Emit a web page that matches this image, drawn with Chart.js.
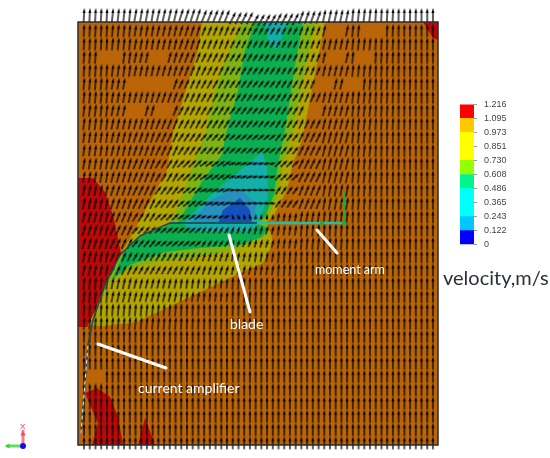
<!DOCTYPE html>
<html>
<head>
<meta charset="utf-8">
<title>velocity</title>
<script src="https://cdn.jsdelivr.net/npm/chart.js@4"></script>
<style>
    body { margin: 0; background: #fff; }
    #field { position: absolute; left: 0; top: 0; }
    #colorbar { position: absolute; left: 450px; top: 92px; }
</style>
</head>
<body>
<canvas id="field" width="550" height="458"></canvas>
<canvas id="colorbar" width="70" height="165"></canvas>
<script>
// contour regions
const domain = [[78, 22], [438, 22], [438, 445], [78, 445]];
const redLeft = [[78, 178], [93, 178], [105, 192], [113, 215], [118, 238], [121, 254], [105, 285], [93, 315], [87, 327], [78, 327]];
const redBottom = [[85, 393], [97, 388], [110, 397], [118, 417], [123, 445], [92, 445], [98, 423]];
const redBottomSmall = [[138, 445], [145, 418], [155, 445]];
const redCorner = [[423, 22], [438, 22], [438, 40], [433, 38]];
const oliveBand = [[202, 22], [325, 22], [302, 140], [293, 163], [287, 190], [273, 217], [264, 224], [271, 233], [273, 243], [263, 263], [240, 273], [200, 292], [137, 322], [103, 326], [88, 325], [93, 315], [105, 285], [121, 254], [133, 233], [167, 170], [173, 133], [198, 50]];
const limeUpper = [[243, 22], [315, 22], [307, 60], [293, 130], [283, 165], [278, 195], [268, 217], [258, 224], [170, 224], [183, 193], [195, 160], [205, 135], [215, 90], [230, 50]];
const limeLower = [[121, 254], [140, 237], [170, 224], [268, 224], [266, 236], [235, 250], [190, 258], [170, 260], [133, 267], [110, 280], [97, 310], [105, 285]];
const greenUpper = [[255, 22], [303, 22], [296, 60], [285, 130], [278, 165], [274, 195], [265, 217], [256, 224], [177, 224], [187, 207], [203, 180], [223, 153], [225, 137], [238, 90], [245, 50]];
const greenLower = [[125, 250], [140, 237], [170, 224], [258, 224], [268, 228], [262, 237], [240, 245], [200, 248], [165, 252], [130, 265], [112, 280]];
const tealUpper = [[265, 22], [287, 22], [283, 35], [277, 50], [268, 40]];
const tealMiddle = [[262, 152], [267, 167], [268, 197], [258, 224], [183, 224], [213, 193], [237, 173]];
const tealLower = [[183, 224], [258, 224], [250, 231], [195, 232]];
const lightBlue = [[190, 224], [210, 200], [237, 188], [257, 203], [252, 224]];
const blueCore = [[218, 224], [223, 210], [240, 198], [250, 210], [252, 224]];

const contourFills = [
    [domain, '#BA6508'],
    [oliveBand, '#B4A600'],
    [limeUpper, '#7DB414'],
    [limeLower, '#7DB414'],
    [greenUpper, '#0CAF50'],
    [greenLower, '#0CAF50'],
    [tealUpper, '#14AFA8'],
    [tealMiddle, '#14AFA8'],
    [tealLower, '#14AFA8'],
    [lightBlue, '#2890BE'],
    [blueCore, '#1450BE'],
    [redLeft, '#BC0808'],
    [redBottom, '#BC0808'],
    [redBottomSmall, '#BC0808'],
    [redCorner, '#BC0808']
];

// arrow direction in degrees clockwise from up, one row per 26 px, one column per 24 px
const arrowAngles = [
    [3, 6, 10, 13, 18, 22, 27, 30, 28, 20, 12, 6, 3, 1, 0],
    [4, 8, 12, 16, 21, 27, 32, 34, 30, 22, 13, 6, 3, 1, 0],
    [5, 10, 14, 19, 25, 30, 35, 38, 33, 24, 13, 6, 3, 1, 0],
    [7, 12, 16, 22, 28, 33, 38, 40, 33, 25, 14, 6, 3, 1, 0],
    [8, 14, 19, 26, 34, 42, 48, 50, 38, 26, 14, 6, 2, 0, 0],
    [10, 16, 22, 31, 45, 55, 68, 75, 45, 26, 13, 5, 2, 0, 0],
    [12, 18, 26, 37, 50, 65, 85, 95, 35, 22, 10, 4, 1, 0, 0],
    [14, 22, 32, 45, 55, 65, -20, 5, 10, 10, 6, 2, 0, 0, 0],
    [16, 25, 40, 50, 50, 35, 22, 15, 8, 5, 3, 1, 0, 0, 0],
    [12, 25, 30, 30, 25, 18, 12, 8, 4, 2, 1, 0, 0, 0, 0],
    [5, 12, 14, 12, 8, 5, 3, 2, 1, 0, 0, 0, 0, 0, 0],
    [3, 5, 5, 4, 2, 1, 1, 0, 0, 0, 0, 0, 0, 0, 0],
    [1, 1, 1, 1, 0, 0, 0, 0, 0, 0, 0, 0, 0, 0, 0],
    [0, 0, 0, 0, 0, 0, 0, 0, 0, 0, 0, 0, 0, 0, 0],
    [0, 0, 0, 0, 0, 0, 0, 0, 0, 0, 0, 0, 0, 0, 0],
    [0, 0, 0, 0, 0, 0, 0, 0, 0, 0, 0, 0, 0, 0, 0],
    [0, 0, 0, 0, 0, 0, 0, 0, 0, 0, 0, 0, 0, 0, 0]
];
// arrow length, same grid
const arrowLengths = [
    [13, 13, 12, 12, 12, 11, 10, 9, 9, 10, 12, 13, 13, 13, 13],
    [13, 13, 12, 12, 12, 11, 10, 9, 9, 10, 12, 13, 13, 13, 13],
    [13, 12, 12, 12, 11, 11, 10, 9, 10, 11, 12, 13, 13, 13, 13],
    [13, 12, 12, 12, 11, 11, 10, 9, 10, 11, 12, 13, 13, 13, 13],
    [12, 12, 12, 12, 11, 10, 9, 9, 10, 12, 13, 13, 13, 13, 13],
    [12, 12, 12, 11, 11, 10, 8, 7, 10, 12, 13, 13, 13, 13, 13],
    [12, 12, 12, 11, 10, 9, 7, 7, 10, 12, 13, 13, 13, 13, 13],
    [12, 12, 11, 10, 9, 7, 6, 6, 9, 12, 13, 13, 13, 13, 13],
    [12, 12, 10, 9, 9, 8, 8, 9, 11, 13, 13, 13, 13, 13, 13],
    [12, 11, 10, 10, 10, 10, 10, 11, 13, 13, 13, 13, 13, 13, 13],
    [13, 12, 11, 11, 11, 11, 13, 13, 13, 13, 13, 13, 13, 13, 13],
    [13, 13, 13, 13, 13, 13, 13, 13, 13, 13, 13, 13, 13, 13, 13],
    [13, 13, 13, 13, 13, 13, 13, 13, 13, 13, 13, 13, 13, 13, 13],
    [13, 13, 13, 13, 13, 13, 13, 13, 13, 13, 13, 13, 13, 13, 13],
    [13, 13, 13, 13, 13, 13, 13, 13, 13, 13, 13, 13, 13, 13, 13],
    [13, 13, 13, 13, 13, 13, 13, 13, 13, 13, 13, 13, 13, 13, 13],
    [13, 13, 13, 13, 13, 13, 13, 13, 13, 13, 13, 13, 13, 13, 13]
];
// tip height of the inlet row above the box, one per 24 px column
const inletTips = [8, 8, 8, 8, 8, 9, 11, 13, 12, 10, 9, 8, 8, 8, 8];
// spots where the vector plot left out arrows
const arrowGaps = [[157, 53], [137, 80], [160, 80], [135, 107], [163, 107], [110, 53], [335, 32], [373, 30], [335, 55], [363, 53], [323, 80], [353, 80], [313, 107], [95, 372]];

const bladeCurve = [[81, 433], [84, 395], [88, 345], [93, 320], [105, 285], [120, 255], [140, 236], [170, 223]];
const bladeFlat = [[170, 223], [258, 223]];
const momentArm = [[258, 223], [345, 223]];
const localAxis = [[344, 223], [344, 192]];
const leaderBlade = [[229, 235], [250, 312]];
const leaderArm = [[317, 230], [337, 253]];
const leaderAmplifier = [[98, 344], [166, 368]];
const triadX = [[23, 446], [23, 431]];
const triadY = [[23, 446], [7, 446]];

const fieldLabels = [
    ['moment arm', 315, 270, '#fff', '12.5px Lato'],
    ['blade', 230, 324, '#fff', '14px Lato'],
    ['current amplifier', 138, 388, '#fff', '14px Lato'],
    ['velocity,m/s', 443, 279, '#2b2f38', '20px Lato'],
    ['X', 20, 427, '#e04050', '8px "Liberation Sans"']
];

const legendTicks = [0, 0.122, 0.243, 0.365, 0.486, 0.608, 0.730, 0.851, 0.973, 1.095, 1.216];
const legendTickLabels = ['0', '0.122', '0.243', '0.365', '0.486', '0.608', '0.730', '0.851', '0.973', '1.095', '1.216'];
const legendBands = [[0, 0.122], [0.122, 0.243], [0.243, 0.486], [0.486, 0.608], [0.608, 0.730], [0.730, 0.973], [0.973, 1.095], [1.095, 1.216]];
const legendColors = ['#0000FF', '#00C8FF', '#00FFFF', '#00F58C', '#96FF00', '#FFFF00', '#FFC800', '#FF0000'];

// one sprite per arrow length, drawn around the centre so rotation works
const sprites = {};
function getSprite(len) {
    if (sprites[len]) return sprites[len];
    const c = document.createElement('canvas');
    c.width = 8;
    c.height = 18;
    const g = c.getContext('2d');
    const top = 9 - len / 2;
    g.fillStyle = '#050505';
    g.fillRect(3.35, top + 3, 1.3, len - 3);
    g.beginPath();
    g.moveTo(4, top);
    g.lineTo(5.5, top + 5);
    g.lineTo(2.5, top + 5);
    g.closePath();
    g.fill();
    sprites[len] = c;
    return c;
}

function toPoints(list) {
    return list.map(([x, y]) => ({ x, y }));
}

function inGap(x, y) {
    return arrowGaps.some(([gx, gy]) => Math.abs(x - gx) < 10 && Math.abs(y - gy) < 6);
}

const arrowPoints = [], arrowRotation = [], arrowStyle = [];
for (let i = 0; i < 32; i++) {
    const tip = 24 + 13.3 * i;
    const cy = tip + 6.5;
    const r = Math.min(Math.floor((cy - 22) / 26), arrowAngles.length - 1);
    for (let j = 0; j < 62; j++) {
        const x = 84 + 5.72 * j;
        if (inGap(x, cy)) continue;
        const k = Math.min(Math.floor((x - 84) / 24), 14);
        arrowPoints.push({ x, y: cy });
        arrowRotation.push(arrowAngles[r][k]);
        arrowStyle.push(getSprite(arrowLengths[r][k]));
    }
}
// inlet row sticking out of the top of the box
for (let j = 0; j < 62; j++) {
    const x = 84 + 5.72 * j;
    const k = Math.min(Math.floor((x - 84) / 24), 14);
    arrowPoints.push({ x, y: inletTips[k] + 7 });
    arrowRotation.push(arrowAngles[0][k]);
    arrowStyle.push(getSprite(14));
}

function lineSet(list, color, width, extra) {
    return Object.assign({
        data: toPoints(list), showLine: true, borderColor: color, borderWidth: width,
        pointRadius: 0, fill: false, clip: false, borderCapStyle: 'round'
    }, extra);
}

const datasets = [];
contourFills.forEach(([poly, color]) => {
    datasets.push({
        data: toPoints(poly.concat([poly[0]])), showLine: true, borderWidth: 0, pointRadius: 0,
        borderColor: color, backgroundColor: color, fill: 'shape', clip: false
    });
});
datasets.push({
    data: arrowPoints, showLine: false, pointStyle: arrowStyle, rotation: arrowRotation,
    pointRadius: 4, clip: false
});
datasets.push(lineSet(domain.concat([domain[0]]), '#2a2a2a', 1.5));
datasets.push(lineSet(bladeCurve, '#27464c', 1.5));
datasets.push(lineSet(bladeCurve.slice(0, 3), '#e8f0f0', 1, { borderDash: [3, 4] }));
datasets.push(lineSet(bladeFlat, '#1f5560', 2));
datasets.push(lineSet(momentArm, '#22c0a0', 2.5));
datasets.push(lineSet(localAxis, '#10b040', 1.5));
datasets.push({
    data: [{ x: 322, y: 223 }, { x: 344, y: 223 }], pointStyle: 'circle', pointRadius: 2,
    backgroundColor: '#10b040', borderWidth: 0, clip: false
});
datasets.push({
    data: [{ x: 344, y: 203 }], pointStyle: 'triangle', pointRadius: 3,
    backgroundColor: '#10b040', borderWidth: 0, clip: false
});
datasets.push(lineSet(leaderBlade, '#fff', 3));
datasets.push(lineSet(leaderArm, '#fff', 3));
datasets.push(lineSet(leaderAmplifier, '#fff', 3));
datasets.push(lineSet(triadX, '#f08090', 3));
datasets.push(lineSet(triadY, '#60e060', 3));
datasets.push({
    data: [{ x: 23, y: 434 }], pointStyle: 'triangle', pointRadius: 3,
    backgroundColor: '#e85060', borderWidth: 0, clip: false
});
datasets.push({
    data: [{ x: 8, y: 446 }], pointStyle: 'triangle', rotation: -90, pointRadius: 3,
    backgroundColor: '#40d040', borderWidth: 0, clip: false
});
datasets.push({
    data: [{ x: 23, y: 446 }], pointStyle: 'circle', pointRadius: 3,
    backgroundColor: '#1010e0', borderWidth: 0, clip: false
});
// first dataset has to end up at the bottom of the stack
datasets.forEach((d, i) => { d.order = datasets.length - i; });

const labelPlugin = {
    id: 'fieldLabels',
    afterDraw(chart) {
        const ctx = chart.ctx;
        const sx = chart.scales.x, sy = chart.scales.y;
        ctx.save();
        ctx.textBaseline = 'middle';
        fieldLabels.forEach(([text, x, y, color, font]) => {
            ctx.font = font;
            ctx.fillStyle = color;
            ctx.fillText(text, sx.getPixelForValue(x), sy.getPixelForValue(y));
        });
        ctx.restore();
    }
};

new Chart(document.getElementById('field'), {
    type: 'scatter',
    data: { datasets },
    plugins: [labelPlugin],
    options: {
        responsive: false,
        animation: false,
        layout: { padding: 0, autoPadding: false },
        plugins: { legend: { display: false }, tooltip: { enabled: false } },
        scales: {
            x: { type: 'linear', min: 0, max: 550, display: false },
            y: { type: 'linear', min: 0, max: 458, reverse: true, display: false }
        }
    }
});

new Chart(document.getElementById('colorbar'), {
    type: 'bar',
    data: {
        labels: ['velocity'],
        datasets: legendBands.map((band, i) => ({
            data: [band], backgroundColor: legendColors[i], barPercentage: 1, categoryPercentage: 1, grouped: false
        }))
    },
    options: {
        responsive: false,
        animation: false,
        layout: { padding: { left: 10, top: 10, bottom: 9, right: 0 } },
        plugins: { legend: { display: false }, tooltip: { enabled: false } },
        scales: {
            x: { display: false },
            y: {
                position: 'right',
                min: 0,
                max: 1.216,
                afterBuildTicks: axis => { axis.ticks = legendTicks.map(value => ({ value })); },
                afterFit: axis => { axis.width = 46; },
                grid: { display: true, drawOnChartArea: false, drawTicks: true, tickLength: 3, color: '#999' },
                border: { display: false },
                ticks: {
                    padding: 7,
                    autoSkip: false,
                    maxRotation: 0,
                    color: '#444',
                    font: { family: 'Liberation Sans', size: 9 },
                    callback: (value, index) => legendTickLabels[index]
                }
            }
        }
    }
});
</script>
</body>
</html>
